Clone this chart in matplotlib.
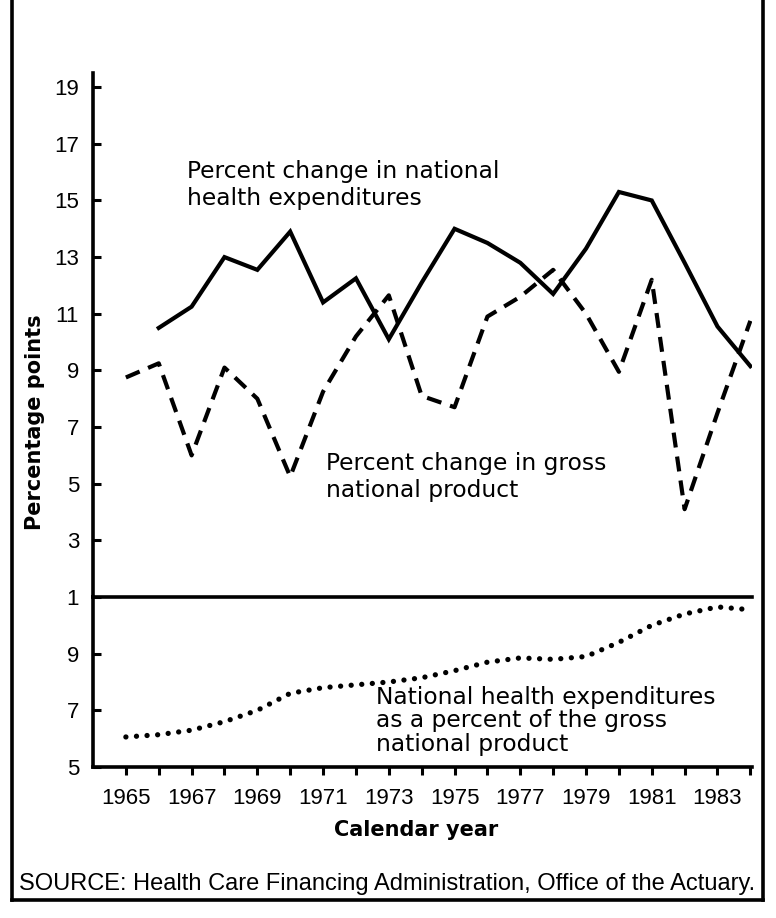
import matplotlib
matplotlib.use("Agg")
import matplotlib.pyplot as plt
from matplotlib.lines import Line2D

plt.rcParams['font.family'] = ['Liberation Sans', 'DejaVu Sans']

# ---- data ----
years_nhe = list(range(1966, 1985))
nhe_change = [10.5, 11.25, 13.0, 12.55, 13.9, 11.4, 12.25, 10.1, 12.1, 14.0,
              13.5, 12.8, 11.7, 13.3, 15.3, 15.0, 12.8, 10.55, 9.15]

years_gnp = list(range(1965, 1985))
gnp_change = [8.75, 9.25, 6.0, 9.1, 8.0, 5.25, 8.25, 10.2, 11.65, 8.1,
              7.7, 10.9, 11.6, 12.55, 11.0, 8.95, 12.2, 4.1, 7.5, 10.75]

years_pct = list(range(1965, 1985))
nhe_pct_gnp = [6.06, 6.14, 6.3, 6.6, 7.0, 7.6, 7.8, 7.9, 8.0, 8.15,
               8.4, 8.7, 8.85, 8.8, 8.9, 9.4, 10.0, 10.4, 10.65, 10.55]

upper_ticks = [1, 3, 5, 7, 9, 11, 13, 15, 17, 19]
upper_labels = ['1', '3', '5', '7', '9', '11', '13', '15', '17', '19']
lower_ticks = [5, 7, 9]
lower_labels = ['5', '7', '9']
x_ticks = list(range(1965, 1985))
x_labels = [str(y) if y % 2 == 1 else '' for y in x_ticks]

label_nhe = "Percent change in national\nhealth expenditures"
label_gnp = "Percent change in gross\nnational product"
label_pct = "National health expenditures\nas a percent of the gross\nnational product"
ylabel = "Percentage points"
xlabel = "Calendar year"
source = "SOURCE: Health Care Financing Administration, Office of the Actuary."

# ---- figure ----
W, H = 776, 918
fig = plt.figure(figsize=(W / 100, H / 100), dpi=100)


def fx(px):
    return px / W


def fy(py):
    return 1 - py / H


ax_left, ax_right = 93, 752
y_top, y_sep, y_bot = 73, 597, 767

ax_up = fig.add_axes([fx(ax_left), fy(y_sep), fx(ax_right - ax_left), (y_sep - y_top) / H])
ax_lo = fig.add_axes([fx(ax_left), fy(y_bot), fx(ax_right - ax_left), (y_bot - y_sep) / H])

xlim = (1964.0, 1984.05)
spine_w = 2.6

for ax in (ax_up, ax_lo):
    ax.set_xlim(*xlim)
    ax.patch.set_alpha(0)
    for s in ('top', 'right'):
        ax.spines[s].set_visible(False)
    for s in ('left', 'bottom'):
        ax.spines[s].set_linewidth(spine_w)
        ax.spines[s].set_color('black')

# upper axes
ax_up.set_ylim(1, 19.5)
ax_up.plot(years_nhe, nhe_change, color='black', lw=3.0, solid_joinstyle='miter')
ax_up.plot(years_gnp, gnp_change, color='black', lw=3.0, dashes=(3.6, 2.2))
ax_up.set_yticks(upper_ticks)
ax_up.set_yticklabels(upper_labels)
ax_up.set_xticks([])
ax_up.tick_params(axis='y', direction='in', length=6, width=2.2, pad=10, labelsize=16)

# lower axes
ax_lo.set_ylim(5, 11)
ax_lo.plot(years_pct, nhe_pct_gnp, color='black', lw=3.8,
           dashes=(0.01, 2.0), dash_capstyle='round')
ax_lo.set_yticks(lower_ticks)
ax_lo.set_yticklabels(lower_labels)
ax_lo.set_xticks(x_ticks)
ax_lo.set_xticklabels(x_labels)
ax_lo.tick_params(axis='y', direction='in', length=6, width=2.2, pad=10, labelsize=16)
ax_lo.tick_params(axis='x', direction='out', length=6, width=2.2, pad=9, labelsize=16)

# annotations
ann_font = ['DejaVu Sans']
fig.text(fx(187), fy(185), label_nhe, fontsize=16.8, family=ann_font,
         ha='left', va='center', linespacing=1.2)
fig.text(fx(326), fy(477), label_gnp, fontsize=16.8, family=ann_font,
         ha='left', va='center', linespacing=1.2)
fig.text(fx(376), fy(721), label_pct, fontsize=16.8, family=ann_font,
         ha='left', va='center', linespacing=1.05)

fig.text(fx(35), fy(422), ylabel, fontsize=15, fontweight='bold', family=ann_font,
         rotation=90, ha='center', va='center')
fig.text(fx(416), fy(830), xlabel, fontsize=15, fontweight='bold', family=ann_font,
         ha='center', va='center')
fig.text(fx(387), fy(884), source, fontsize=17, ha='center', va='center')

# outer frame (top cropped in reference)
frame_lw = 2.6
fig.add_artist(Line2D([fx(12), fx(12)], [fy(-5), fy(900)], color='black', lw=frame_lw,
                      transform=fig.transFigure))
fig.add_artist(Line2D([fx(763), fx(763)], [fy(-5), fy(900)], color='black', lw=frame_lw,
                      transform=fig.transFigure))
fig.add_artist(Line2D([fx(12), fx(763)], [fy(900), fy(900)], color='black', lw=frame_lw,
                      transform=fig.transFigure))

fig.savefig('out.png', dpi=100)
